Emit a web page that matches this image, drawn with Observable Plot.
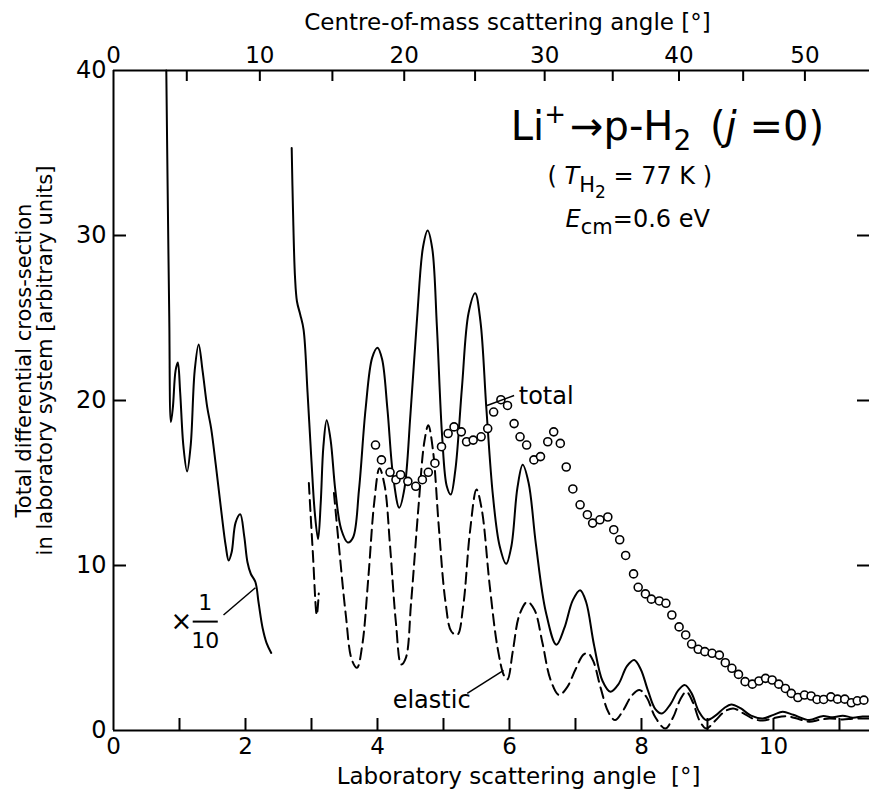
<!DOCTYPE html>
<html><head><meta charset="utf-8">
<script src="https://cdn.jsdelivr.net/npm/d3@7"></script>
<script src="https://cdn.jsdelivr.net/npm/@observablehq/plot@0.6"></script>
<style>
html,body{margin:0;padding:0;background:#fff;}
#chart svg{display:block;}
</style>
</head><body><div id="chart"></div>
<script>
// ---- data (laboratory angle in degrees, cross-section in arbitrary units) ----
// theoretical total, drawn at x 1/10
const scaledTotal = [[0.80,40],[0.82,33],[0.845,25],[0.87,18.7],[0.90,19.6],[0.94,21.8],[0.975,22.3],[1.01,20.5],[1.06,17.2],[1.115,15.7],[1.17,17.3],[1.23,21.8],[1.29,23.4],[1.35,21.8],[1.42,19.6],[1.48,18.3],[1.55,16.1],[1.63,13.4],[1.70,11.2],[1.745,10.3],[1.79,10.8],[1.85,12.6],[1.92,13.1],[1.98,11.8],[2.03,10.2],[2.08,9.5],[2.15,9.0],[2.20,7.7],[2.26,6.2],[2.32,5.3],[2.39,4.7]];
// theoretical total (solid)
const theoryTotal = [[2.70,35.3],[2.72,31.5],[2.75,27.5],[2.78,26.0],[2.83,25.2],[2.88,24.3],[2.94,20.5],[3.00,16.3],[3.05,13.2],[3.10,11.6],[3.14,13.8],[3.18,17.2],[3.23,18.8],[3.29,17.6],[3.36,14.6],[3.45,12.2],[3.55,11.4],[3.63,11.7],[3.72,14.6],[3.82,19.5],[3.92,22.6],[4.00,23.2],[4.07,22.5],[4.15,19.5],[4.24,15.3],[4.33,13.5],[4.41,14.7],[4.50,19.2],[4.60,25.0],[4.69,29.3],[4.76,30.3],[4.83,29.2],[4.90,24.5],[4.98,17.8],[5.05,14.8],[5.11,14.3],[5.18,15.8],[5.28,20.8],[5.38,25.3],[5.48,26.5],[5.56,24.8],[5.65,19.5],[5.75,14.2],[5.85,11.2],[5.95,10.1],[6.03,11.2],[6.12,14.7],[6.20,16.1],[6.29,15.0],[6.40,11.3],[6.55,7.2],[6.71,5.2],[6.83,6.2],[6.96,7.9],[7.07,8.5],[7.16,7.8],[7.28,5.2],[7.41,3.0],[7.53,2.35],[7.65,2.8],[7.78,3.9],[7.89,4.27],[7.99,3.7],[8.10,2.4],[8.21,1.3],[8.31,1.03],[8.44,1.6],[8.56,2.45],[8.66,2.75],[8.76,2.25],[8.87,1.15],[8.98,0.63],[9.12,0.9],[9.25,1.35],[9.36,1.58],[9.50,1.35],[9.66,0.9],[9.84,0.73],[10.00,0.95],[10.14,1.13],[10.30,0.95],[10.54,0.63],[10.74,0.87],[10.90,0.8],[11.05,0.9],[11.20,0.78],[11.35,0.85],[11.46,0.85]];
// theoretical elastic (dashed), two pieces
const elasticStart = [[2.96,15.0],[3.02,10.8],[3.08,7.0],[3.11,8.3]];
const elasticMain = [[3.34,14.4],[3.42,11],[3.52,7],[3.61,4.3],[3.69,3.8],[3.77,5.2],[3.86,9.2],[3.95,13.8],[4.03,15.9],[4.11,14.8],[4.19,11.2],[4.28,6.5],[4.36,4.0],[4.43,4.4],[4.51,7.8],[4.62,13.5],[4.71,17.5],[4.77,18.5],[4.84,17.0],[4.93,12.3],[5.03,7.8],[5.12,6.0],[5.21,5.8],[5.30,7.6],[5.40,12.0],[5.50,14.6],[5.58,13.4],[5.70,8.8],[5.82,5.0],[5.92,3.3],[5.97,3.1],[6.05,4.8],[6.15,7.0],[6.27,7.8],[6.38,7.3],[6.50,5.3],[6.62,3.1],[6.75,2.15],[6.87,2.6],[7.00,3.7],[7.12,4.6],[7.19,4.68],[7.27,4.2],[7.38,2.6],[7.50,1.1],[7.60,0.63],[7.72,1.2],[7.85,2.1],[7.97,2.45],[8.08,2.0],[8.21,0.8],[8.36,0.12],[8.48,0.8],[8.59,1.9],[8.68,2.35],[8.78,1.7],[8.88,0.6],[8.98,0.12],[9.12,0.6],[9.26,1.15],[9.39,1.34],[9.54,1.05],[9.70,0.7],[9.84,0.6],[10.00,0.75],[10.19,0.87],[10.38,0.7],[10.54,0.53],[10.70,0.65],[10.85,0.73],[11.05,0.67],[11.20,0.72],[11.35,0.73],[11.46,0.72]];
// measured total (circles)
const measuredTotal = [[3.97,17.3],[4.06,16.4],[4.19,15.65],[4.28,15.2],[4.35,15.5],[4.46,15.1],[4.58,14.8],[4.68,15.2],[4.77,15.65],[4.87,16.2],[4.97,17.2],[5.07,18.0],[5.16,18.4],[5.27,18.1],[5.35,17.5],[5.45,17.6],[5.57,17.8],[5.67,18.3],[5.76,19.3],[5.87,20.05],[5.97,19.7],[6.07,18.6],[6.16,17.8],[6.26,17.3],[6.37,16.4],[6.47,16.6],[6.58,17.5],[6.67,18.1],[6.77,17.4],[6.86,15.97],[6.96,14.64],[7.07,13.68],[7.18,13.08],[7.26,12.57],[7.37,12.77],[7.49,12.94],[7.58,12.17],[7.67,11.56],[7.76,10.61],[7.88,9.49],[7.95,8.68],[8.06,8.28],[8.15,7.96],[8.27,7.85],[8.37,7.71],[8.46,7.0],[8.57,6.28],[8.67,5.79],[8.76,5.24],[8.86,4.92],[8.96,4.78],[9.07,4.68],[9.18,4.57],[9.27,4.11],[9.37,3.77],[9.47,3.4],[9.57,2.96],[9.68,2.81],[9.78,3.0],[9.88,3.16],[9.98,3.06],[10.08,2.81],[10.18,2.55],[10.27,2.25],[10.37,2.0],[10.47,2.15],[10.57,2.09],[10.66,1.88],[10.76,1.88],[10.87,2.04],[10.97,1.9],[11.08,1.9],[11.18,1.68],[11.27,1.8],[11.37,1.84]];

// axes
const labTicks = [1,2,3,4,5,6,7,8,9,10,11];
const labLabels = [0,2,4,6,8,10];
const cmTicks = [5,10,15,20,25,30,35,40,45,50];
const cmLabels = [0,10,20,30,40,50];
const yTicks = [10,20,30];
const yLabels = [0,10,20,30,40];
const massRatio = 7 / 2; // Li+ / H2, converts centre-of-mass angle to lab angle

function cmToLab(deg) {
  const r = deg * Math.PI / 180;
  return Math.atan(Math.sin(r) / (Math.cos(r) + massRatio)) * 180 / Math.PI;
}
const toObj = a => a.map(([x, y]) => ({x, y}));

const W = 869, H = 789, ML = 113, MR = 0, MT = 70, MB = 59;
const innerW = W - ML - MR, innerH = H - MT - MB;
const FONT = "'DejaVu Sans', sans-serif";
const mid = {textAnchor: "middle", lineAnchor: "middle"};

const plot = Plot.plot({
  width: W, height: H,
  marginLeft: ML, marginRight: MR, marginTop: MT, marginBottom: MB,
  x: {domain: [0, 11.455], axis: null},
  y: {domain: [0, 40], axis: null},
  style: {fontFamily: FONT, background: "white", color: "black", overflow: "visible"},
  marks: [
    // frame (top, bottom, left)
    Plot.ruleY([0, 40], {stroke: "black", strokeWidth: 2}),
    Plot.ruleX([0], {stroke: "black", strokeWidth: 2}),
    // inward ticks
    Plot.tickX(labTicks, {x: d => d, insetTop: innerH - 12, strokeWidth: 2}),
    Plot.tickX(cmTicks.map(cmToLab), {x: d => d, insetBottom: innerH - 11, strokeWidth: 2}),
    Plot.tickY(yTicks, {y: d => d, insetRight: innerW - 13, strokeWidth: 2}),
    Plot.tickY(yTicks, {y: d => d, insetLeft: innerW - 12, strokeWidth: 2}),
    // tick labels
    Plot.text(labLabels, {x: d => d, text: d => String(d), frameAnchor: "bottom", ...mid, dy: 16, fontSize: 23}),
    Plot.text(cmLabels, {x: d => cmToLab(d), text: d => String(d), frameAnchor: "top", ...mid, dy: -15, fontSize: 23}),
    Plot.text(yLabels, {y: d => d, text: d => String(d), frameAnchor: "left", textAnchor: "end", lineAnchor: "middle", dx: -7, fontSize: 24}),
    // axis titles
    Plot.text(["Laboratory scattering angle  [°]"], {text: d => d, frameAnchor: "bottom", ...mid, dx: 27, dy: 46, fontSize: 23}),
    Plot.text(["Centre-of-mass scattering angle [°]"], {text: d => d, frameAnchor: "top", ...mid, dx: 16, dy: -48, fontSize: 23}),
    Plot.text(["Total differential cross-section\nin laboratory system [arbitrary units]"], {text: d => d, frameAnchor: "left", ...mid, rotate: -90, dx: -79, dy: -40, fontSize: 21, lineHeight: 1.0}),
    // curves
    Plot.line(toObj(scaledTotal), {x: "x", y: "y", stroke: "black", strokeWidth: 2, curve: "catmull-rom"}),
    Plot.line(toObj(theoryTotal), {x: "x", y: "y", stroke: "black", strokeWidth: 2, curve: "catmull-rom"}),
    Plot.line(toObj(elasticStart), {x: "x", y: "y", stroke: "black", strokeWidth: 2, strokeDasharray: "11,6", curve: "catmull-rom"}),
    Plot.line(toObj(elasticMain), {x: "x", y: "y", stroke: "black", strokeWidth: 2, strokeDasharray: "11,6", curve: "catmull-rom"}),
    Plot.dot(toObj(measuredTotal), {x: "x", y: "y", r: 4, stroke: "black", fill: "white", strokeWidth: 1.6}),
    // annotations: leader lines
    Plot.link([{x1: 1.667, y1: 7.0, x2: 2.15, y2: 8.65}, {x1: 5.66, y1: 19.7, x2: 6.07, y2: 20.3}, {x1: 5.36, y1: 2.25, x2: 5.91, y2: 3.65}],
      {x1: "x1", y1: "y1", x2: "x2", y2: "y2", stroke: "black", strokeWidth: 1.5}),
    // fraction bar of x 1/10
    Plot.link([{x1: 1.20, y1: 6.6, x2: 1.58, y2: 6.6}], {x1: "x1", y1: "y1", x2: "x2", y2: "y2", stroke: "black", strokeWidth: 2}),
    Plot.text([{x: 1.03, y: 6.6, t: "×"}], {x: "x", y: "y", text: "t", fontSize: 26}),
    Plot.text([{x: 1.39, y: 7.75, t: "1"}, {x: 1.39, y: 5.4, t: "10"}], {x: "x", y: "y", text: "t", fontSize: 22}),
    Plot.text([{x: 6.14, y: 20.25, t: "total"}], {x: "x", y: "y", text: "t", textAnchor: "start", fontSize: 24}),
    Plot.text([{x: 4.82, y: 1.8, t: "elastic"}], {x: "x", y: "y", text: "t", fontSize: 24}),
    // reaction labels
    Plot.text([{x: 6.02, y: 36.55, t: "Li+→p-H2 (j =0)"}], {x: "x", y: "y", text: "t", textAnchor: "start", fontSize: 40, ariaDescription: "reaction"}),
    Plot.text([{x: 6.576, y: 33.6, t: "(TH2 = 77 K)"}], {x: "x", y: "y", text: "t", textAnchor: "start", fontSize: 24, ariaDescription: "temperature"}),
    Plot.text([{x: 6.85, y: 30.97, t: "Ecm=0.6 eV"}], {x: "x", y: "y", text: "t", textAnchor: "start", fontSize: 24, ariaDescription: "energy"})
  ]
});

// rich text (sub/superscripts, italics) for the reaction labels
const svg = d3.select(plot);
function rich(label, parts) {
  const t = svg.select(`g[aria-description="${label}"] text`);
  if (t.empty()) return;
  t.text(null);
  for (const p of parts) {
    const ts = t.append("tspan").text(p.t);
    if (p.dx) ts.attr("dx", p.dx);
    if (p.dy) ts.attr("dy", p.dy);
    if (p.size) ts.attr("font-size", p.size);
    if (p.italic) ts.attr("font-style", "italic");
  }
}
rich("reaction", [
  {t: "Li"}, {t: "+", dy: -17, size: 26}, {t: "→", dx: 4, dy: 17}, {t: "p-H"}, {t: "2", dy: 10, size: 28},
  {t: " (", dx: 6, dy: -10}, {t: "j", italic: true}, {t: " =0)"}
]);
rich("temperature", [
  {t: "( "}, {t: "T", italic: true}, {t: "H", dy: 8, size: 21}, {t: "2", dy: 6, size: 17},
  {t: " = 77 K )", dy: -14}
]);
rich("energy", [
  {t: "E", italic: true}, {t: "cm", dy: 7, size: 21}, {t: "=0.6 eV", dy: -7}
]);
svg.selectAll("text").style("white-space", "pre");

document.getElementById("chart").appendChild(plot);
</script>
</body></html>
